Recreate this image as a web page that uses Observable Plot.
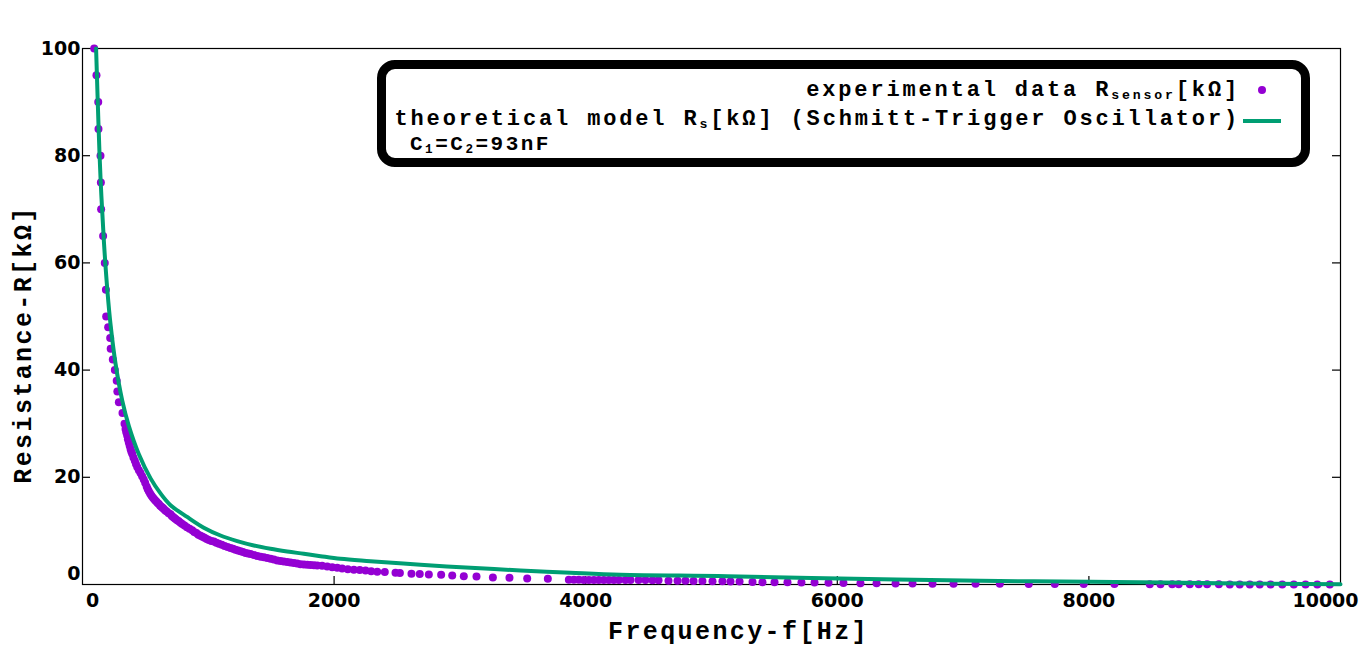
<!DOCTYPE html>
<html><head><meta charset="utf-8">
<script src="https://cdn.jsdelivr.net/npm/d3@7"></script>
<script src="https://cdn.jsdelivr.net/npm/@observablehq/plot@0.6"></script>
<style>
body{margin:0;background:#fff;}
#wrap{position:relative;width:1360px;height:651px;overflow:hidden;background:#fff;}
.lg{position:absolute;font-family:"Liberation Mono","DejaVu Sans Mono",monospace;font-weight:bold;font-size:22px;letter-spacing:2.85px;line-height:22px;white-space:nowrap;color:#000;}
.lg sub{font-size:60%;vertical-align:-0.25em;line-height:0;}
#box{position:absolute;left:377px;top:60px;width:933px;height:107px;box-sizing:border-box;border:9px solid #000;border-radius:18px;background:#fff;}
</style></head><body><div id="wrap"></div>
<script>
// experimental data: frequency [Hz] and resistance [kΩ]
const expFreq = [93,111,125,127,143,146,148,164,177,186,
188,204,220,224,241,257,272,277,289,318,334,
342,348,355,361,368,375,382,388,395,405,416,425,435,448,461,474,487,498,510,518,527,537,547,557,567,577,587,597,607,617,627,637,647,658,670,685,700,710,720,730,740,752,765,779,793,811,830,851,872,888,905,921,938,954,970,987,1004,1024,1044,1064,1084,1107,1130,1153,1176,1196,1216,1236,1256,1276,1296,1316,1336,1363,1390,1416,1442,1468,1495,1521,1548,1574,1600,1627,1653,1680,1706,1733,1760,1787,1813,1840,1866,
1905,1945,1985,2025,2064,2109,2157,2204,2250,2295,2343,2403,2488,2523,2615,2681,2753,2851,2939,3031,3132,3262,3394,3535,3699,
3866,3906,3945,3985,4025,4065,4104,4144,4184,4224,4263,
4316,4356,4420,4475,4531,4579,4658,4730,4793,4857,4928,5008,5087,5151,5223,5326,5405,5501,5604,5715,5819,5930,6049,6184,6312,6463,6598,6757,6924,7099,
7292,7522,7729,7959,8203,8484,8569,8662,8714,8802,8873,8940,9033,9120,9199,9279,9358,9444,9537,9629,9722,9815,9915];
const expRes = [100,95,90,85,80,75,70,65,60,55,
50,48,46,44,42,40,38,36,34,32,30,
29.0,28.4,27.8,27.1,26.5,25.9,25.3,24.8,24.4,23.7,23.1,22.5,21.9,21.3,20.8,20.2,19.6,19.0,18.3,17.8,17.4,17.0,16.6,16.3,16.0,15.7,15.5,15.2,15.0,14.7,14.5,14.3,14.1,13.8,13.6,13.3,13.1,12.8,12.6,12.4,12.2,12.0,11.8,11.5,11.3,11.0,10.7,10.4,10.1,9.8,9.6,9.3,9.1,8.9,8.7,8.5,8.3,8.1,8.0,7.8,7.6,7.4,7.2,7.0,6.8,6.65,6.5,6.35,6.2,6.05,5.9,5.8,5.7,5.5,5.3,5.2,5.1,4.95,4.8,4.65,4.5,4.4,4.3,4.2,4.1,4.0,3.9,3.8,3.75,3.7,3.65,3.6,3.55,
3.5,3.36,3.23,3.11,2.99,2.86,2.76,2.7,2.61,2.49,2.38,2.33,2.18,2.16,1.99,1.97,1.87,1.81,1.68,1.55,1.49,1.31,1.25,1.12,1.06,
0.9,0.88,0.87,0.86,0.86,0.85,0.85,0.85,0.85,0.85,0.84,
0.84,0.84,0.83,0.82,0.81,0.8,0.72,0.7,0.68,0.66,0.64,0.62,0.6,0.58,0.56,0.46,0.44,0.42,0.4,0.37,0.35,0.32,0.3,0.25,0.23,0.2,0.18,0.16,0.14,0.13,
0.12,0.11,0.1,0.09,0.08,0.05,0.05,0.04,0.04,0.04,0.03,0.03,0.03,0.02,0.02,0.02,0.02,0.01,0.01,0.01,0.01,0,0];

// theoretical model curve
const modelFreq = [108,120,135,150,170,199,223,262,316,368,448,541,620,700,832,964,1097,1230,1362,1494,1627,1759,1892,2051,2289,2687,3084,3482,3879,4277,5125,6131,7138,8013,9046,10000];
const modelRes  = [100,91,80.5,72.5,64,54.5,48.5,41.3,34.3,29.6,24.3,19.8,17.0,14.8,12.6,10.6,9.14,8.1,7.28,6.66,6.16,5.73,5.28,4.79,4.35,3.68,3.12,2.61,2.18,1.81,1.55,1.06,0.69,0.5,0.24,0.06];

const xTicks = [0,2000,4000,6000,8000,10000];
const yTicks = [0,20,40,60,80,100];
const xTitle = "Frequency-f[Hz]";
const yTitle = "Resistance-R[kΩ]";

const expData = expFreq.map((f,i)=>({f, r: expRes[i]}));
const modelData = modelFreq.map((f,i)=>({f, r: modelRes[i]}));

const tickFont = {fontSize: 19, fontWeight: "bold", fontFamily: "DejaVu Sans, sans-serif", fill: "#000"};
const titleFont = {fontSize: 25, fontWeight: "bold", fontFamily: "Liberation Mono, DejaVu Sans Mono, monospace", fill: "#000"};
const fmt = d => String(d);
const H = 651, MT = 48, MB = 67, ML = 82, MR = 20, W = 1360;
const frameH = H - MT - MB, frameW = W - ML - MR;

const chart = Plot.plot({
  width: W, height: H,
  marginLeft: ML, marginRight: MR, marginTop: MT, marginBottom: MB,
  style: {background: "#fff", overflow: "visible"},
  x: {domain: [0, 10000]},
  y: {domain: [0, 100]},
  marks: [
    Plot.frame({stroke: "#000", strokeWidth: 1.2}),
    // inward ticks (bottom, left, right mirror)
    Plot.tickX(xTicks.slice(1, -1), {x: d => d, insetTop: frameH - 8, stroke: "#000", strokeWidth: 1.2}),
    Plot.tickY(yTicks.slice(1, -1), {y: d => d, insetRight: frameW - 8, stroke: "#000", strokeWidth: 1.2}),
    Plot.tickY(yTicks.slice(1, -1), {y: d => d, insetLeft: frameW - 8, stroke: "#000", strokeWidth: 1.2}),
    // tick labels
    Plot.axisX(xTicks.slice(1, -1), {tickSize: 0, tickPadding: 9, tickFormat: fmt, label: null, ...tickFont}),
    Plot.axisX([xTicks[0]], {tickSize: 0, tickPadding: 9, tickFormat: fmt, label: null, dx: 10, ...tickFont}),
    Plot.axisX([xTicks[xTicks.length-1]], {tickSize: 0, tickPadding: 9, tickFormat: fmt, label: null, dx: -15, ...tickFont}),
    Plot.axisY(yTicks.slice(1), {tickSize: 0, tickPadding: 2, tickFormat: fmt, label: null, ...tickFont}),
    Plot.axisY([yTicks[0]], {tickSize: 0, tickPadding: 2, tickFormat: fmt, label: null, dy: -11, ...tickFont}),
    // axis titles
    Plot.text([xTitle], {frameAnchor: "bottom", textAnchor: "middle", lineAnchor: "middle", dy: 46, dx: 27, text: d => d, ...titleFont}),
    Plot.text([yTitle], {frameAnchor: "left", textAnchor: "middle", lineAnchor: "middle", rotate: -90, dx: -60, dy: 28, text: d => d, ...titleFont}),
    // data
    Plot.dot(expData, {x: "f", y: "r", r: 4, fill: "#9400d3", stroke: "none"}),
    Plot.line(modelData, {x: "f", y: "r", stroke: "#009e73", strokeWidth: 4, curve: "catmull-rom"})
  ]
});
chart.querySelectorAll("text").forEach(t => {
  if (t.textContent === xTitle || t.textContent === yTitle) t.style.letterSpacing = "2.4px";
});
const wrap = document.getElementById("wrap");
wrap.appendChild(chart);

// legend overlay
const box = document.createElement("div"); box.id = "box"; wrap.appendChild(box);
function addText(html, style){ const s = document.createElement("div"); s.className = "lg"; s.innerHTML = html; Object.assign(s.style, style); wrap.appendChild(s); return s; }
addText("experimental data R<sub>sensor</sub>[kΩ]", {right: "120px", top: "80px"});
addText("theoretical model R<sub>s</sub>[kΩ] (Schmitt-Trigger Oscillator)", {right: "120px", top: "109px"});
addText("C<sub>1</sub>=C<sub>2</sub>=93nF", {left: "410px", top: "134px", fontSize: "21px", lineHeight: "21px", letterSpacing: "2.5px"});
const dot = document.createElement("div");
Object.assign(dot.style, {position: "absolute", left: "1258px", top: "86px", width: "8px", height: "8px", borderRadius: "50%", background: "#9400d3"});
wrap.appendChild(dot);
const ln = document.createElement("div");
Object.assign(ln.style, {position: "absolute", left: "1243px", top: "119px", width: "38px", height: "4px", background: "#009e73"});
wrap.appendChild(ln);
</script>
</body></html>
